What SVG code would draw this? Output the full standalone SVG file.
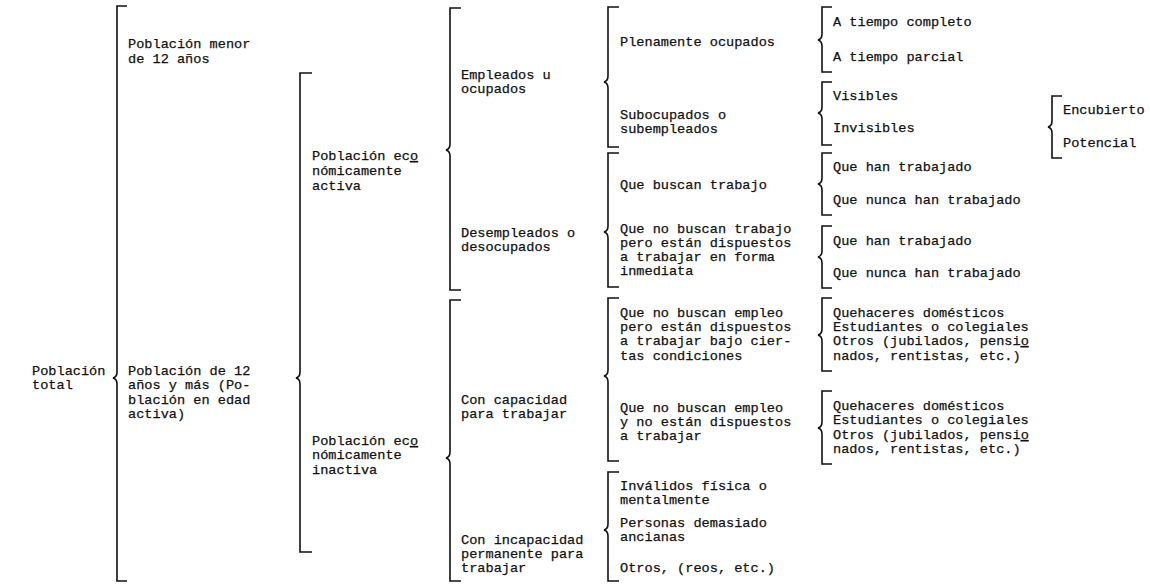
<svg xmlns="http://www.w3.org/2000/svg" width="1150" height="584" viewBox="0 0 1150 584">
<style>
text { font-family: "Liberation Mono", "DejaVu Sans Mono", monospace; font-size: 13.6px; fill: #111111; stroke: #111111; stroke-width: 0.25; }
.br { fill: none; stroke: #111111; stroke-width: 1.6; }
.u { text-decoration: underline; }
</style>
<rect width="1150" height="584" fill="#ffffff"/>
<g id="connectors">
<path class="br" d="M127,6 H117 V372 Q117,377 113,378 Q117,379 117,384 V581 H127"/>
<path class="br" d="M312,73 H300 V372 Q300,377 296,378 Q300,379 300,384 V552 H312"/>
<path class="br" d="M461,8 H450 V144 Q450,149 446,150 Q450,151 450,156 V290 H461"/>
<path class="br" d="M461,300 H450 V452 Q450,457 446,458 Q450,459 450,464 V581 H461"/>
<path class="br" d="M619,7 H608 V76 Q608,81 604,82 Q608,83 608,88 V147 H619"/>
<path class="br" d="M619,153 H608 V226 Q608,231 604,232 Q608,233 608,238 V287 H619"/>
<path class="br" d="M619,298 H608 V370 Q608,375 604,376 Q608,377 608,382 V461 H619"/>
<path class="br" d="M619,472 H608 V524 Q608,529 604,530 Q608,531 608,536 V581 H619"/>
<path class="br" d="M832,7 H822 V34 Q822,39 818,40 Q822,41 822,46 V72 H832"/>
<path class="br" d="M832,82 H822 V107 Q822,112 818,113 Q822,114 822,119 V145 H832"/>
<path class="br" d="M832,153 H822 V178 Q822,183 818,184 Q822,185 822,190 V215 H832"/>
<path class="br" d="M832,226 H822 V251 Q822,256 818,257 Q822,258 822,263 V288 H832"/>
<path class="br" d="M832,298 H822 V329 Q822,334 818,335 Q822,336 822,341 V371 H832"/>
<path class="br" d="M832,391 H822 V422 Q822,427 818,428 Q822,429 822,434 V464 H832"/>
<path class="br" d="M1062,96 H1052 V121 Q1052,126 1048,127 Q1052,128 1052,133 V158 H1062"/>
</g>
<g id="n-total"><text x="32" y="375">Población</text><text x="32" y="389">total</text></g>
<g id="n-menor12"><text x="128" y="48">Población menor</text><text x="128" y="63">de 12 años</text></g>
<g id="n-12ymas"><text x="128" y="375">Población de 12</text><text x="128" y="389">años y más (Po-</text><text x="128" y="404">blación en edad</text><text x="128" y="418">activa)</text></g>
<g id="n-pea"><text x="312" y="160">Población ec<tspan class="u">o</tspan></text><text x="312" y="175">nómicamente</text><text x="312" y="190">activa</text></g>
<g id="n-pei"><text x="312" y="445">Población ec<tspan class="u">o</tspan></text><text x="312" y="459">nómicamente</text><text x="312" y="474">inactiva</text></g>
<g id="n-empleados"><text x="461" y="79">Empleados u</text><text x="461" y="93">ocupados</text></g>
<g id="n-desempleados"><text x="461" y="237">Desempleados o</text><text x="461" y="251">desocupados</text></g>
<g id="n-capacidad"><text x="461" y="404">Con capacidad</text><text x="461" y="418">para trabajar</text></g>
<g id="n-incapacidad"><text x="461" y="544">Con incapacidad</text><text x="461" y="558">permanente para</text><text x="461" y="572">trabajar</text></g>
<g id="n-plenamente"><text x="620" y="46">Plenamente ocupados</text></g>
<g id="n-subocupados"><text x="620" y="119">Subocupados o</text><text x="620" y="133">subempleados</text></g>
<g id="n-buscan"><text x="620" y="189">Que buscan trabajo</text></g>
<g id="n-nobuscan-dispuestos"><text x="620" y="233">Que no buscan trabajo</text><text x="620" y="247">pero están dispuestos</text><text x="620" y="261">a trabajar en forma</text><text x="620" y="275">inmediata</text></g>
<g id="n-nobuscan-condiciones"><text x="620" y="317">Que no buscan empleo</text><text x="620" y="331">pero están dispuestos</text><text x="620" y="345">a trabajar bajo cier-</text><text x="620" y="360">tas condiciones</text></g>
<g id="n-nobuscan-nodispuestos"><text x="620" y="412">Que no buscan empleo</text><text x="620" y="426">y no están dispuestos</text><text x="620" y="440">a trabajar</text></g>
<g id="n-invalidos"><text x="620" y="490">Inválidos física o</text><text x="620" y="504">mentalmente</text></g>
<g id="n-ancianas"><text x="620" y="527">Personas demasiado</text><text x="620" y="541">ancianas</text></g>
<g id="n-reos"><text x="620" y="572">Otros, (reos, etc.)</text></g>
<g id="n-completo"><text x="833" y="26">A tiempo completo</text></g>
<g id="n-parcial"><text x="833" y="61">A tiempo parcial</text></g>
<g id="n-visibles"><text x="833" y="100">Visibles</text></g>
<g id="n-invisibles"><text x="833" y="132">Invisibles</text></g>
<g id="n-han1"><text x="833" y="171">Que han trabajado</text></g>
<g id="n-nunca1"><text x="833" y="204">Que nunca han trabajado</text></g>
<g id="n-han2"><text x="833" y="245">Que han trabajado</text></g>
<g id="n-nunca2"><text x="833" y="277">Que nunca han trabajado</text></g>
<g id="n-otros1"><text x="833" y="317">Quehaceres domésticos</text><text x="833" y="331">Estudiantes o colegiales</text><text x="833" y="345">Otros (jubilados, pensi<tspan class="u">o</tspan></text><text x="833" y="360">nados, rentistas, etc.)</text></g>
<g id="n-otros2"><text x="833" y="410">Quehaceres domésticos</text><text x="833" y="424">Estudiantes o colegiales</text><text x="833" y="439">Otros (jubilados, pensi<tspan class="u">o</tspan></text><text x="833" y="453">nados, rentistas, etc.)</text></g>
<g id="n-encubierto"><text x="1063" y="114">Encubierto</text></g>
<g id="n-potencial"><text x="1063" y="147">Potencial</text></g>
</svg>
